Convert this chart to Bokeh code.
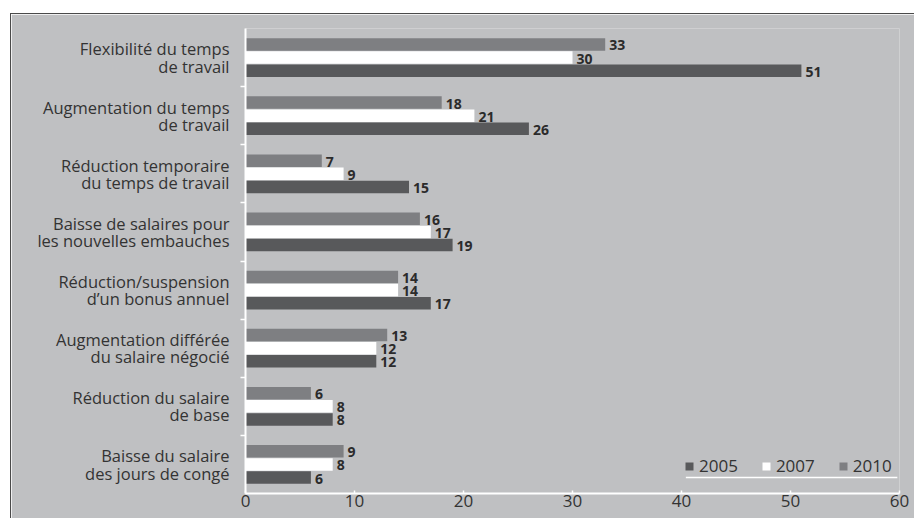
from bokeh.plotting import figure
from bokeh.models import Range1d, FixedTicker, Legend, LegendItem, ColumnDataSource
from bokeh.transform import dodge
from bokeh.core.properties import value
from bokeh.embed import file_html
from bokeh.resources import INLINE

categories = [
    "Flexibilité du temps\nde travail",
    "Augmentation du temps\nde travail",
    "Réduction temporaire\ndu temps de travail",
    "Baisse de salaires pour\nles nouvelles embauches",
    "Réduction/suspension\nd’un bonus annuel",
    "Augmentation différée\ndu salaire négocié",
    "Réduction du salaire\nde base",
    "Baisse du salaire\ndes jours de congé",
]
years = ["2005", "2007", "2010"]
v2005 = [51, 26, 15, 19, 17, 12, 8, 6]
v2007 = [30, 21, 9, 17, 14, 12, 8, 8]
v2010 = [33, 18, 7, 16, 14, 13, 6, 9]
x_ticks = [0, 10, 20, 30, 40, 50, 60]

BG = "#bfc0c2"
FONT = "Open Sans"
TXT = "#333333"

ypos = list(range(len(categories)))

p = figure(width=904, height=505, output_backend="svg", toolbar_location=None,
           x_range=Range1d(0, 60), y_range=Range1d(len(categories) - 0.5, -0.5),
           min_border_left=234, min_border_right=16, min_border_top=14,
           min_border_bottom=26)
p.styles = {"margin-left": "10px", "margin-top": "13px",
            "border-left": "1px solid #4a4a4a", "border-top": "1px solid #4a4a4a"}
p.border_fill_color = BG
p.background_fill_color = BG
p.outline_line_color = None
p.grid.visible = False

series = [("2010", v2010, "#7e7f82", -0.225),
          ("2007", v2007, "#ffffff", 0.0),
          ("2005", v2005, "#58595b", 0.225)]
renderers = {}
for name, vals, col, off in series:
    src = ColumnDataSource(dict(y=ypos, v=vals, lbl=[str(v) for v in vals]))
    r = p.hbar(y=dodge("y", off, range=p.y_range), right="v", left=0, height=0.215,
               source=src, fill_color=col, line_color=None)
    renderers[name] = r
    p.text(x="v", y=dodge("y", off, range=p.y_range), text="lbl", source=src,
           x_offset=4, y_offset=1, text_align="left", text_baseline="middle",
           text_font=value(FONT), text_font_style="bold", text_font_size="14px",
           text_color="#2b2b2b")

# x axis
xa = p.xaxis[0]
xa.ticker = FixedTicker(ticks=x_ticks)
xa.axis_line_color = "white"
xa.axis_line_width = 2
xa.major_tick_line_color = "white"
xa.major_tick_line_width = 1.5
xa.major_tick_in = 3
xa.major_tick_out = 0
xa.minor_tick_line_color = None
xa.major_label_standoff = 1
xa.major_label_text_font = FONT
xa.major_label_text_font_size = "17px"
xa.major_label_text_color = TXT

# y axis
ya = p.yaxis[0]
ya.ticker = FixedTicker(ticks=ypos, minor_ticks=[i + 0.5 for i in ypos[:-1]])
ya.major_label_overrides = {i: c for i, c in zip(ypos, categories)}
ya.axis_line_color = "white"
ya.axis_line_width = 2
ya.major_tick_line_color = None
ya.major_tick_in = 0
ya.major_tick_out = 0
ya.minor_tick_line_color = "white"
ya.minor_tick_line_width = 1.5
ya.minor_tick_in = 0
ya.minor_tick_out = 5
ya.major_label_standoff = 11
ya.major_label_text_font = FONT
ya.major_label_text_font_size = "16.5px"
ya.major_label_text_line_height = 0.75
ya.major_label_text_color = TXT

legend = Legend(items=[LegendItem(label=y, renderers=[renderers[y]]) for y in years],
                orientation="horizontal", location=(439, 16),
                background_fill_alpha=0, border_line_color=None,
                padding=0, margin=0, spacing=23, label_standoff=5,
                glyph_width=10, glyph_height=10, label_height=20,
                label_text_font=FONT, label_text_font_size="17px",
                label_text_color=TXT)
p.add_layout(legend)

# white rule under the legend
p.line(x=[40.4, 59.8], y=[7.225, 7.225], line_color="white", line_width=1.5)

open("out.html", "w").write(file_html(p, INLINE))
